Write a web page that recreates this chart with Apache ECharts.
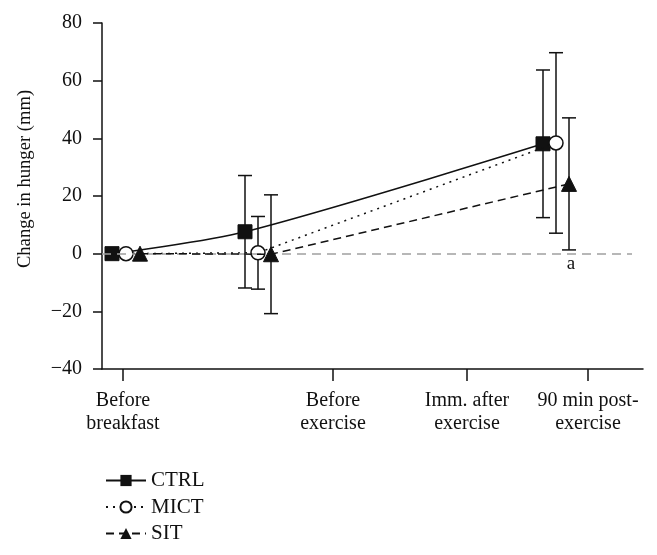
<!DOCTYPE html>
<html>
<head>
<meta charset="utf-8">
<script src="https://cdn.jsdelivr.net/npm/echarts@6/dist/echarts.min.js"></script>
<style>html,body{margin:0;padding:0;background:#fff;}#c{width:657px;height:555px;}</style>
</head>
<body>
<div id="c"></div>
<script>
// x positions (arbitrary time units along the axis)
const xTickPos = [21, 231, 365, 486];
const xTickLabels = ['Before\nbreakfast', 'Before\nexercise', 'Imm. after\nexercise', '90 min post-\nexercise'];
const yTicks = [-40, -20, 0, 20, 40, 60, 80];
const zeroLineRange = [0, 530];

const ctrlX = [10, 143, 441];
const ctrlY = [0, 7.6, 38.1];
const ctrlErr = [0, 19.5, 25.6];

const mictX = [24, 156, 454];
const mictY = [0, 0.3, 38.4];
const mictErr = [0, 12.6, 31.3];

const sitX = [38, 169, 467];
const sitY = [0, -0.2, 24.2];
const sitErr = [0, 20.6, 22.9];

const FONT = '"Liberation Serif", "DejaVu Serif", serif';

function pts(xs, ys) { return xs.map((x, i) => [x, ys[i]]); }
function errData(xs, ys, es) { return xs.map((x, i) => [x, ys[i] - es[i], ys[i] + es[i]]).filter((d, i) => es[i] > 0); }

function errSeries(xs, ys, es) {
  return {
    type: 'custom',
    silent: true,
    z: 1,
    data: errData(xs, ys, es),
    encode: { x: 0, y: [1, 2] },
    renderItem: function (params, api) {
      const lo = api.coord([api.value(0), api.value(1)]);
      const hi = api.coord([api.value(0), api.value(2)]);
      const w = 7;
      const st = { stroke: '#111', lineWidth: 1.5 };
      return {
        type: 'group',
        children: [
          { type: 'line', shape: { x1: lo[0], y1: lo[1], x2: hi[0], y2: hi[1] }, style: st },
          { type: 'line', shape: { x1: lo[0] - w, y1: lo[1], x2: lo[0] + w, y2: lo[1] }, style: st },
          { type: 'line', shape: { x1: hi[0] - w, y1: hi[1], x2: hi[0] + w, y2: hi[1] }, style: st }
        ]
      };
    }
  };
}

const chart = echarts.init(document.getElementById('c'), null, { renderer: 'canvas' });
chart.setOption({
  animation: false,
  backgroundColor: '#fff',
  textStyle: { fontFamily: FONT, color: '#111' },
  grid: { left: 102, top: 23, right: 14, bottom: 186, containLabel: false },
  xAxis: {
    type: 'value', min: 0, max: 541,
    axisLine: { onZero: false, lineStyle: { color: '#111', width: 1.5 } },
    axisTick: { show: true, customValues: xTickPos, length: 12, lineStyle: { color: '#111', width: 1.5 } },
    axisLabel: {
      customValues: xTickPos, margin: 20, fontSize: 20, fontFamily: FONT, color: '#111', lineHeight: 23,
      formatter: v => xTickLabels[xTickPos.indexOf(v)] || ''
    },
    splitLine: { show: false }
  },
  yAxis: {
    type: 'value', min: -40, max: 80, interval: 20,
    name: 'Change in hunger (mm)', nameLocation: 'middle', nameGap: 67, nameRotate: 90,
    nameTextStyle: { fontSize: 18.6, fontFamily: FONT, color: '#111', padding: [0, 0, 0, 34] },
    axisLine: { show: true, lineStyle: { color: '#111', width: 1.5 } },
    axisTick: { show: true, length: 9, lineStyle: { color: '#111', width: 1.5 } },
    axisLabel: { margin: 20, fontSize: 20, fontFamily: FONT, color: '#111', formatter: v => String(v).replace('-', '\u2212') },
    splitLine: { show: false }
  },
  legend: {
    orient: 'vertical', left: 100, top: 465, itemGap: 5.5, itemWidth: 40, itemHeight: 14,
    textStyle: { fontSize: 21, fontFamily: FONT, color: '#111' },
    data: ['CTRL', 'MICT', 'SIT']
  },
  series: [
    errSeries(ctrlX, ctrlY, ctrlErr),
    errSeries(mictX, mictY, mictErr),
    errSeries(sitX, sitY, sitErr),
    {
      name: 'CTRL', type: 'line', data: pts(ctrlX, ctrlY), smooth: 0.3, z: 3,
      symbol: 'rect', symbolSize: 14,
      lineStyle: { color: '#111', width: 1.5, type: 'solid' },
      itemStyle: { color: '#111', borderColor: '#111' },
      markLine: {
        silent: true, symbol: 'none', label: { show: false },
        lineStyle: { color: '#a0a0a0', type: [9, 6], width: 1.5 },
        data: [[{ coord: [zeroLineRange[0], 0] }, { coord: [zeroLineRange[1], 0] }]]
      }
    },
    {
      name: 'MICT', type: 'line', data: pts(mictX, mictY), z: 4,
      symbol: 'circle', symbolSize: 14,
      lineStyle: { color: '#111', width: 1.5, type: [2, 5] },
      itemStyle: { color: '#fff', borderColor: '#111', borderWidth: 1.5 }
    },
    {
      name: 'SIT', type: 'line', data: pts(sitX, sitY), z: 5,
      symbol: 'triangle', symbolSize: 15,
      lineStyle: { color: '#111', width: 1.5, type: [8, 5] },
      itemStyle: { color: '#111', borderColor: '#111' },
      markPoint: {
        symbol: 'circle', symbolSize: 0,
        label: { show: true, formatter: 'a', fontSize: 19, fontFamily: FONT, color: '#111', position: 'inside' },
        data: [{ coord: [sitX[2] + 2, -3.5] }]
      }
    }
  ]
});
</script>
</body>
</html>
